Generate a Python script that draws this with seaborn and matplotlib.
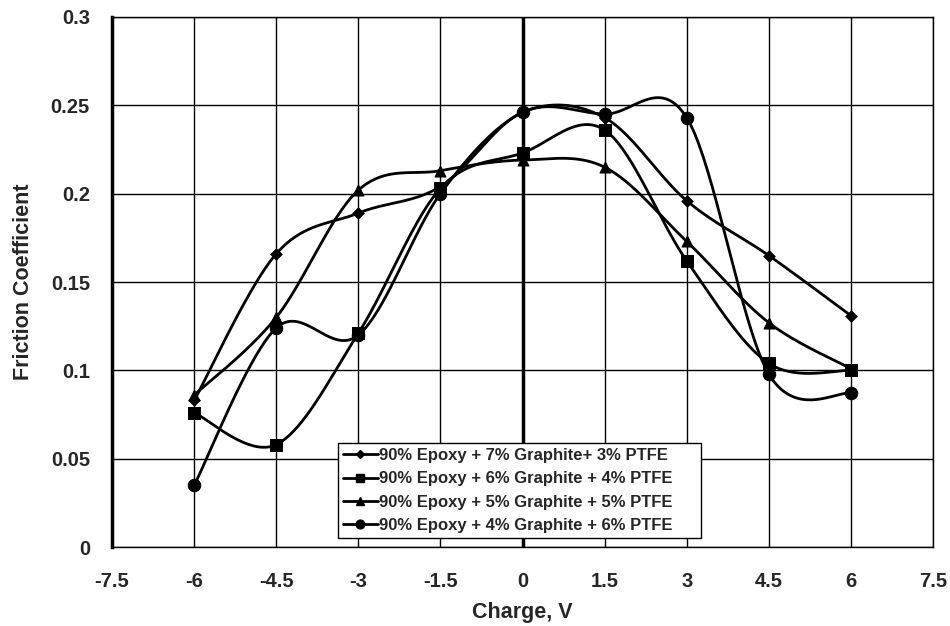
import numpy as np
import pandas as pd
import matplotlib
matplotlib.use("Agg")
import matplotlib.pyplot as plt
from matplotlib.lines import Line2D
import seaborn as sns

charge = [-6, -4.5, -3, -1.5, 0, 1.5, 3, 4.5, 6]
s_7g3p = [0.083, 0.166, 0.189, 0.204, 0.246, 0.243, 0.196, 0.165, 0.131]
s_6g4p = [0.076, 0.058, 0.121, 0.203, 0.223, 0.236, 0.162, 0.104, 0.100]
s_5g5p = [0.086, 0.130, 0.202, 0.213, 0.219, 0.215, 0.173, 0.127, 0.101]
s_4g6p = [0.035, 0.124, 0.120, 0.200, 0.246, 0.245, 0.243, 0.098, 0.087]
labels = ["90% Epoxy + 7% Graphite+ 3% PTFE",
          "90% Epoxy + 6% Graphite + 4% PTFE",
          "90% Epoxy + 5% Graphite + 5% PTFE",
          "90% Epoxy + 4% Graphite + 6% PTFE"]
xticks = [-7.5, -6, -4.5, -3, -1.5, 0, 1.5, 3, 4.5, 6, 7.5]
yticks = [0, 0.05, 0.1, 0.15, 0.2, 0.25, 0.3]

series = [s_7g3p, s_6g4p, s_5g5p, s_4g6p]
markers = ["D", "s", "^", "o"]
msizes = [6, 9, 8, 9]

sns.set_style("white")
plt.rcParams['font.family'] = ['Liberation Sans', 'DejaVu Sans']
plt.rcParams['font.weight'] = 'bold'

fig = plt.figure(figsize=(9.5, 6.26), dpi=100)
ax = fig.add_axes([0.118, 0.126, 0.864, 0.847])


def smooth(x, y, n=40):
    x = np.asarray(x, float); y = np.asarray(y, float)
    xs, ys = [], []
    m = len(x)
    for i in range(m - 1):
        i0 = max(i - 1, 0); i3 = min(i + 2, m - 1)
        p0 = np.array([x[i], y[i]]); p3 = np.array([x[i + 1], y[i + 1]])
        c1 = p0 + (np.array([x[i + 1], y[i + 1]]) - np.array([x[i0], y[i0]])) / 6
        c2 = p3 - (np.array([x[i3], y[i3]]) - np.array([x[i], y[i]])) / 6
        t = np.linspace(0, 1, n)[:, None]
        pts = ((1 - t) ** 3) * p0 + 3 * ((1 - t) ** 2) * t * c1 + 3 * (1 - t) * t ** 2 * c2 + t ** 3 * p3
        xs.extend(pts[:, 0]); ys.extend(pts[:, 1])
    return np.array(xs), np.array(ys)


rows = []
for lab, vals in zip(labels, series):
    for c, v in zip(charge, vals):
        rows.append({"Charge": c, "Friction": v, "Series": lab})
df = pd.DataFrame(rows)

handles = []
for lab, vals, mk, ms in zip(labels, series, markers, msizes):
    sx, sy = smooth(charge, vals)
    ax.plot(sx, sy, color="black", lw=2, zorder=3)
    sub = df[df["Series"] == lab]
    sns.scatterplot(data=sub, x="Charge", y="Friction", marker=mk, s=ms ** 2,
                    color="black", edgecolor="black", ax=ax, zorder=4, legend=False)
    handles.append(Line2D([], [], color="black", lw=2, marker=mk, markersize=ms * 0.7))

ax.set_xlim(-7.5, 7.5)
ax.set_ylim(0, 0.3)
ax.set_xticks(xticks)
ax.set_xticklabels([f"{v:g}" for v in xticks])
ax.set_yticks(yticks)
ax.set_yticklabels([f"{v:g}" for v in yticks])
ax.grid(True, color="black", lw=1)
ax.axvline(0, color="black", lw=2.5, zorder=2)
for side in ["top", "right", "bottom"]:
    ax.spines[side].set_linewidth(1)
    ax.spines[side].set_color("black")
ax.spines["left"].set_linewidth(2.5)
ax.spines["left"].set_color("black")
ax.tick_params(axis="both", labelsize=14.5, length=0)
ax.tick_params(axis="x", pad=18)
ax.tick_params(axis="y", pad=16)
for t in ax.get_xticklabels() + ax.get_yticklabels():
    t.set_fontweight("bold")
ax.set_xlabel("Charge, V", fontsize=15.5, fontweight="bold", labelpad=8)
ax.set_ylabel("Friction Coefficient", fontsize=15.5, fontweight="bold", labelpad=12)

leg = ax.legend(handles, labels, loc="lower left",
                bbox_to_anchor=(0.275, 0.017, 0.443, 0.18), mode="expand",
                frameon=True, fancybox=False, edgecolor="black", framealpha=1,
                prop={"weight": "bold", "size": 12}, handlelength=2.1,
                handletextpad=0.05, borderpad=0.3, labelspacing=0.5,
                borderaxespad=0)
leg.get_frame().set_linewidth(1)
leg.set_zorder(10)

fig.savefig("out.png", dpi=100)
